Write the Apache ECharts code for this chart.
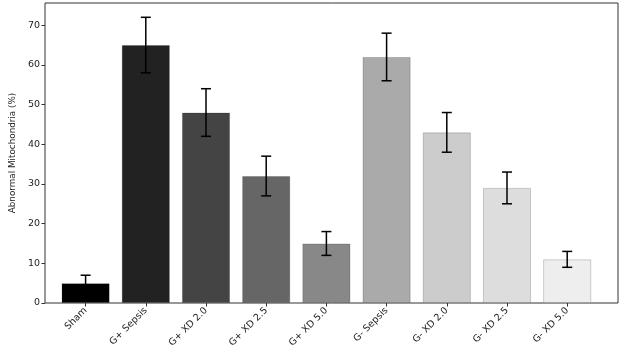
<!DOCTYPE html>
<html>
<head>
<meta charset="utf-8">
<script src="https://cdn.jsdelivr.net/npm/echarts@6/dist/echarts.min.js"></script>
<style>
  html, body { margin: 0; padding: 0; background: #fff; }
  #chart { width: 624px; height: 351px; }
</style>
</head>
<body>
<div id="chart"></div>
<script>
const categories = ["Sham", "G+ Sepsis", "G+ XD 2.0", "G+ XD 2.5", "G+ XD 5.0", "G- Sepsis", "G- XD 2.0", "G- XD 2.5", "G- XD 5.0"];
const values = [5, 65, 48, 32, 15, 62, 43, 29, 11];
const errors = [2, 7, 6, 5, 3, 6, 5, 4, 2];
const barColors = ["#000000", "#222222", "#444444", "#666666", "#888888", "#aaaaaa", "#cccccc", "#dddddd", "#eeeeee"];

const chart = echarts.init(document.getElementById("chart"));
const font = "DejaVu Sans";

const option = {
  animation: false,
  grid: [
    // frame
    { left: 35, right: 6, top: 3, bottom: 48, show: true, borderColor: "#333", borderWidth: 1 },
    // bars
    { left: 55.5, right: 26.7, top: 3, bottom: 48 },
  ],
  xAxis: [
    {
      gridIndex: 0, type: "value", min: 0, max: 1,
      axisLine: { show: false }, axisTick: { show: false },
      axisLabel: { show: false }, splitLine: { show: false },
    },
    {
      gridIndex: 1, type: "category", data: categories,
      axisLine: { show: false },
      axisTick: { show: true, alignWithLabel: true, length: 3.5, lineStyle: { color: "#333" } },
      axisLabel: { rotate: 45, fontFamily: font, fontSize: 9.5, color: "#222", margin: 6 },
    },
  ],
  yAxis: [
    {
      gridIndex: 0, type: "value", min: 0, max: 75.6, interval: 10,
      axisLine: { show: false },
      axisTick: { show: true, length: 3.5, lineStyle: { color: "#333" } },
      axisLabel: { fontFamily: font, fontSize: 9.5, color: "#222", margin: 5, showMaxLabel: false },
      splitLine: { show: false },
      name: "Abnormal Mitochondria (%)",
      nameLocation: "middle",
      nameGap: 28,
      nameTextStyle: { fontFamily: font, fontSize: 8.8, color: "#222" },
    },
    {
      gridIndex: 1, type: "value", min: 0, max: 75.6, show: false,
    },
  ],
  series: [
    {
      type: "bar",
      xAxisIndex: 1,
      yAxisIndex: 1,
      barCategoryGap: "20%",
      data: values.map((v, i) => ({
        value: v,
        itemStyle: { color: barColors[i], borderColor: "rgba(0,0,0,0.18)", borderWidth: 1 },
      })),
    },
    {
      type: "custom",
      xAxisIndex: 1,
      yAxisIndex: 1,
      z: 5,
      data: values.map((v, i) => [i, v - errors[i], v + errors[i]]),
      renderItem: (params, api) => {
        const lo = api.coord([api.value(0), api.value(1)]);
        const hi = api.coord([api.value(0), api.value(2)]);
        const cap = 5;
        const style = { stroke: "#000", lineWidth: 1.5 };
        return {
          type: "group",
          children: [
            { type: "line", shape: { x1: hi[0], y1: hi[1], x2: lo[0], y2: lo[1] }, style },
            { type: "line", shape: { x1: hi[0] - cap, y1: hi[1], x2: hi[0] + cap, y2: hi[1] }, style },
            { type: "line", shape: { x1: lo[0] - cap, y1: lo[1], x2: lo[0] + cap, y2: lo[1] }, style },
          ],
        };
      },
    },
  ],
};

chart.setOption(option);
</script>
</body>
</html>
